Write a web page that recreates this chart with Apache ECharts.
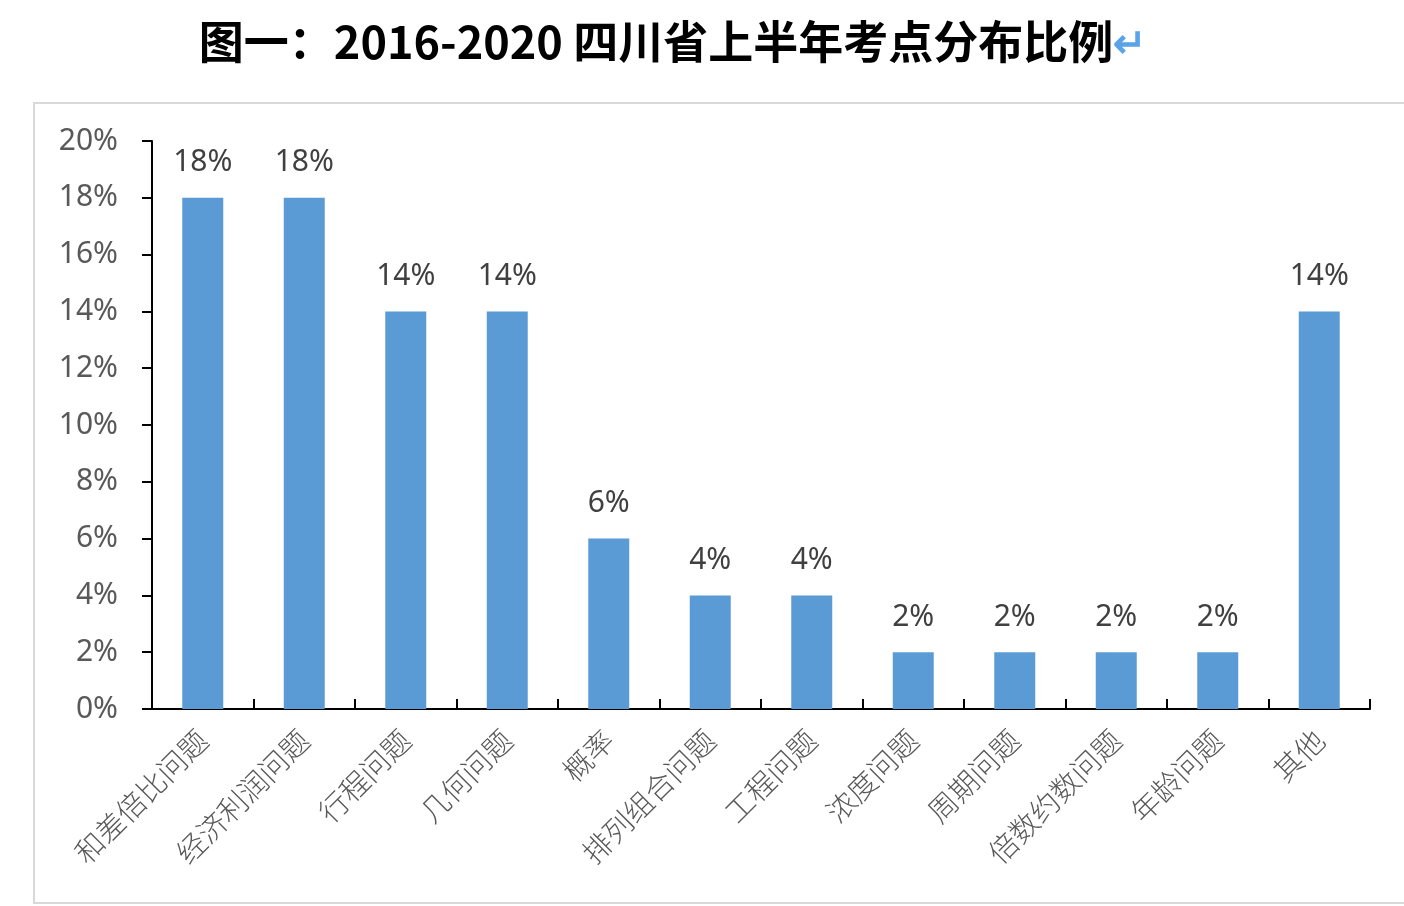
<!DOCTYPE html>
<html>
<head>
<meta charset="utf-8">
<script src="https://cdn.jsdelivr.net/npm/echarts@6/dist/echarts.min.js"></script>
<style>html,body{margin:0;padding:0;background:#fff}#c{width:1404px;height:906px}</style>
</head>
<body>
<div id="c"></div>
<script>
const categories = ['和差倍比问题','经济利润问题','行程问题','几何问题','概率','排列组合问题','工程问题','浓度问题','周期问题','倍数约数问题','年龄问题','其他'];
const values = [18,18,14,14,6,4,4,2,2,2,2,14];
const yTicks = [0,2,4,6,8,10,12,14,16,18,20];
const titleText = '图一：2016-2020 四川省上半年考点分布比例';

const chart = echarts.init(document.getElementById('c'));
chart.setOption({
  backgroundColor: '#fff',
  animation: false,
  title: {
    text: '{a|' + titleText + '}{b|↵}',
    left: 668, top: 14, textAlign: 'center',
    textStyle: {
      rich: {
        a: {fontFamily: 'Noto Sans CJK SC', fontWeight: 'bold', fontSize: 45, color: '#000'},
        b: {fontFamily: 'Noto Sans CJK SC', fontSize: 40, color: '#5BA3E8'}
      }
    }
  },
  graphic: [{
    type: 'rect', shape: {x: 34, y: 103, width: 1380, height: 800},
    style: {fill: 'none', stroke: '#D9D9D9', lineWidth: 2}, silent: true, z: -1
  }],
  grid: {left: 152, right: 34, top: 141, bottom: 197},
  xAxis: {
    type: 'category', data: categories,
    axisLine: {lineStyle: {color: '#000', width: 2}},
    axisTick: {show: true, inside: true, length: 10, lineStyle: {color: '#000', width: 2}, alignWithLabel: false},
    axisLabel: {rotate: 45, interval: 0, margin: 26, color: '#595959', fontSize: 29, fontFamily: 'Noto Sans CJK SC', fontWeight: 300}
  },
  yAxis: {
    type: 'value', min: 0, max: 20, interval: 2,
    axisLine: {show: true, lineStyle: {color: '#000', width: 2}},
    axisTick: {show: true, length: 10, lineStyle: {color: '#000', width: 2}},
    splitLine: {show: false},
    axisLabel: {margin: 34, color: '#595959', fontSize: 30, fontFamily: 'Noto Sans', formatter: v => yTicks.includes(v) ? v + '%' : ''}
  },
  series: [{
    type: 'bar', data: values, barWidth: 41,
    itemStyle: {color: '#5B9BD5'},
    label: {show: true, position: 'top', distance: 20, color: '#404040', fontSize: 30, fontFamily: 'Noto Sans', formatter: p => p.value + '%'}
  }]
});
</script>
</body>
</html>
